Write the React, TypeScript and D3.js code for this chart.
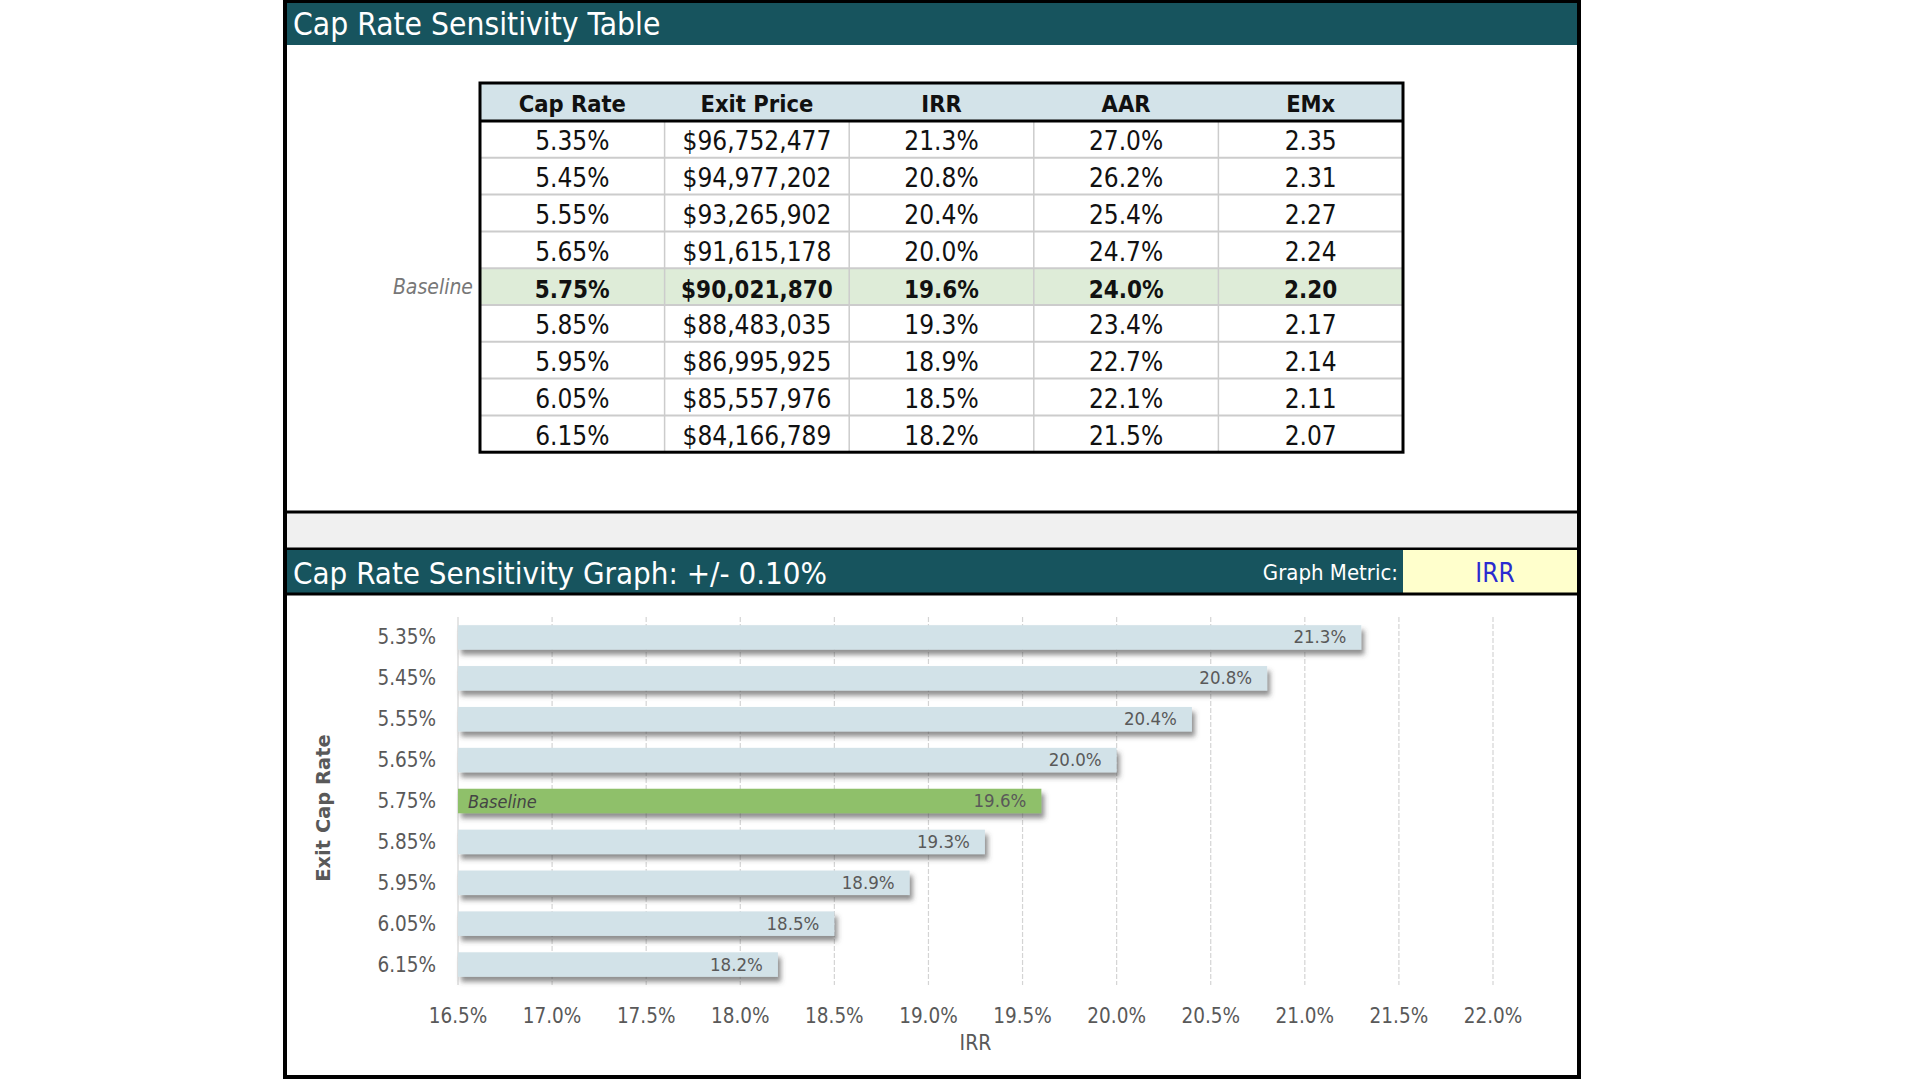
import { useEffect, useRef } from "react";
import * as d3 from "d3";

const capRates = ["5.35%", "5.45%", "5.55%", "5.65%", "5.75%", "5.85%", "5.95%", "6.05%", "6.15%"];
const exitPrices = [96752477, 94977202, 93265902, 91615178, 90021870, 88483035, 86995925, 85557976, 84166789];
const irrValues = [21.3, 20.8, 20.4, 20.0, 19.6, 19.3, 18.9, 18.5, 18.2];
const aarValues = [27.0, 26.2, 25.4, 24.7, 24.0, 23.4, 22.7, 22.1, 21.5];
const emxValues = [2.35, 2.31, 2.27, 2.24, 2.2, 2.17, 2.14, 2.11, 2.07];
const columns = ["Cap Rate", "Exit Price", "IRR", "AAR", "EMx"];
const xTicks = [16.5, 17.0, 17.5, 18.0, 18.5, 19.0, 19.5, 20.0, 20.5, 21.0, 21.5, 22.0];
const baselineIndex = 4;

const TEAL = "#17545e";
const NARROW = "'Liberation Sans Narrow', 'Arial Narrow', 'DejaVu Sans Condensed', sans-serif";

export default function App() {
  const svgRef = useRef<SVGSVGElement>(null);

  useEffect(() => {
    if (!svgRef.current) return;
    const svg = d3.select(svgRef.current);
    svg.selectAll("*").remove();

    const box = { left: 285, right: 1579, top: 0, bottom: 1077 };

    const defs = svg.append("defs");
    defs
      .append("filter")
      .attr("id", "shadow")
      .attr("x", "-5%")
      .attr("y", "-30%")
      .attr("width", "115%")
      .attr("height", "200%")
      .append("feDropShadow")
      .attr("dx", 3)
      .attr("dy", 5)
      .attr("stdDeviation", 2.5)
      .attr("flood-color", "#444")
      .attr("flood-opacity", 0.6);

    svg.append("rect").attr("width", 1920).attr("height", 1080).attr("fill", "#fff");

    // top title band
    svg.append("rect").attr("x", box.left).attr("y", 0).attr("width", box.right - box.left).attr("height", 45).attr("fill", TEAL);
    svg.append("text").attr("x", 293).attr("y", 35).attr("fill", "#fff").attr("font-family", NARROW).attr("font-size", 31.5)
      .text("Cap Rate Sensitivity Table");

    // ---- table ----
    const tL = 480, tR = 1403;
    const tX = d3.scaleBand<string>().domain(columns).range([tL, tR]);
    const headerTop = 83, headerH = 38, rowH = 36.8;
    const rowY = d3.scaleBand<string>().domain(capRates).range([headerTop + headerH, headerTop + headerH + rowH * capRates.length]);

    const tbl = svg.append("g").attr("font-family", NARROW);
    tbl.append("rect").attr("x", tL).attr("y", headerTop).attr("width", tR - tL).attr("height", headerH).attr("fill", "#d3e3e9");
    tbl.append("rect").attr("x", tL).attr("y", rowY(capRates[baselineIndex])!).attr("width", tR - tL).attr("height", rowH).attr("fill", "#deecd8");

    // row separators
    tbl.selectAll(".rowline").data(capRates.slice(1)).enter().append("line")
      .attr("x1", tL).attr("x2", tR)
      .attr("y1", (d) => rowY(d)!).attr("y2", (d) => rowY(d)!)
      .attr("stroke", "#cccccc").attr("stroke-width", 2);
    // column separators
    tbl.selectAll(".colline").data(columns.slice(1)).enter().append("line")
      .attr("x1", (d) => tX(d)!).attr("x2", (d) => tX(d)!)
      .attr("y1", headerTop + headerH).attr("y2", rowY.range()[1])
      .attr("stroke", "#cccccc").attr("stroke-width", 1.5);

    tbl.selectAll(".hdr").data(columns).enter().append("text")
      .attr("x", (d) => tX(d)! + tX.bandwidth() / 2).attr("y", headerTop + 29)
      .attr("text-anchor", "middle").attr("font-weight", "bold").attr("font-size", 23.5).attr("fill", "#111")
      .text((d) => d);

    const fmtPrice = d3.format("$,.0f");
    const cells = capRates.map((c, i) => [c, fmtPrice(exitPrices[i]), irrValues[i].toFixed(1) + "%", aarValues[i].toFixed(1) + "%", emxValues[i].toFixed(2)]);
    cells.forEach((row, i) => {
      tbl.selectAll(".c" + i).data(row).enter().append("text")
        .attr("x", (_, j) => tX(columns[j])! + tX.bandwidth() / 2)
        .attr("y", rowY(capRates[i])! + rowH / 2 + 11)
        .attr("text-anchor", "middle").attr("font-size", i === baselineIndex ? 24 : 26).attr("fill", "#111")
        .attr("font-weight", i === baselineIndex ? "bold" : "normal")
        .text((d) => d);
    });

    tbl.append("line").attr("x1", tL).attr("x2", tR).attr("y1", headerTop + headerH).attr("y2", headerTop + headerH).attr("stroke", "#000").attr("stroke-width", 3);
    tbl.append("rect").attr("x", tL).attr("y", headerTop).attr("width", tR - tL).attr("height", rowY.range()[1] - headerTop)
      .attr("fill", "none").attr("stroke", "#000").attr("stroke-width", 3);

    tbl.append("text").attr("x", 473).attr("y", rowY(capRates[baselineIndex])! + rowH / 2 + 7)
      .attr("text-anchor", "end").attr("font-style", "italic").attr("font-size", 21).attr("fill", "#777").text("Baseline");

    // ---- divider & second header ----
    svg.append("rect").attr("x", box.left).attr("y", 513).attr("width", box.right - box.left).attr("height", 36).attr("fill", "#f0f0f0");
    svg.append("line").attr("x1", box.left).attr("x2", box.right).attr("y1", 512).attr("y2", 512).attr("stroke", "#000").attr("stroke-width", 3);
    svg.append("line").attr("x1", box.left).attr("x2", box.right).attr("y1", 549).attr("y2", 549).attr("stroke", "#000").attr("stroke-width", 3);
    svg.append("rect").attr("x", box.left).attr("y", 550).attr("width", box.right - box.left).attr("height", 44).attr("fill", TEAL);
    svg.append("rect").attr("x", 1403).attr("y", 550).attr("width", box.right - 1403).attr("height", 44).attr("fill", "#ffffcc");
    svg.append("line").attr("x1", box.left).attr("x2", box.right).attr("y1", 594).attr("y2", 594).attr("stroke", "#000").attr("stroke-width", 3);
    svg.append("text").attr("x", 293).attr("y", 584).attr("fill", "#fff").attr("font-family", NARROW).attr("font-size", 31)
      .text("Cap Rate Sensitivity Graph: +/- 0.10%");
    svg.append("text").attr("x", 1398).attr("y", 580).attr("text-anchor", "end").attr("fill", "#fff").attr("font-family", NARROW).attr("font-size", 22)
      .text("Graph Metric:");
    svg.append("text").attr("x", 1495).attr("y", 582).attr("text-anchor", "middle").attr("fill", "#2b2bd0").attr("font-family", NARROW).attr("font-size", 26)
      .text("IRR");

    // ---- bar chart ----
    const x = d3.scaleLinear().domain([16.5, 22.0]).range([458, 1493]);
    const y = d3.scaleBand<string>().domain(capRates).range([617, 985]).paddingInner(0.4).paddingOuter(0.2);
    const chart = svg.append("g").attr("font-family", NARROW);

    chart.selectAll(".grid").data(xTicks).enter().append("line")
      .attr("x1", (d) => x(d)).attr("x2", (d) => x(d))
      .attr("y1", 617).attr("y2", 985)
      .attr("stroke", "#d4d4d4").attr("stroke-width", 1.2).attr("stroke-dasharray", (d, i) => (i === 0 ? null : "5,2"));

    chart.selectAll(".bar").data(capRates).enter().append("rect")
      .attr("x", x(16.5)).attr("y", (d) => y(d)!)
      .attr("width", (_, i) => x(irrValues[i]) - x(16.5))
      .attr("height", y.bandwidth())
      .attr("fill", (_, i) => (i === baselineIndex ? "#8fc06b" : "#d2e2e8"))
      .attr("filter", "url(#shadow)");

    chart.selectAll(".lbl").data(capRates).enter().append("text")
      .attr("x", (_, i) => x(irrValues[i]) - 15)
      .attr("y", (d) => y(d)! + y.bandwidth() / 2 + 6)
      .attr("text-anchor", "end").attr("font-size", 18.5).attr("fill", "#595959")
      .text((_, i) => irrValues[i].toFixed(1) + "%");

    chart.append("text").attr("x", x(16.5) + 10).attr("y", y(capRates[baselineIndex])! + y.bandwidth() / 2 + 7)
      .attr("font-style", "italic").attr("font-size", 18).attr("fill", "#444").text("Baseline");

    chart.selectAll(".ytick").data(capRates).enter().append("text")
      .attr("x", 436).attr("y", (d) => y(d)! + y.bandwidth() / 2 + 7)
      .attr("text-anchor", "end").attr("font-size", 20.5).attr("fill", "#595959").text((d) => d);

    chart.selectAll(".xtick").data(xTicks).enter().append("text")
      .attr("x", (d) => x(d)).attr("y", 1023)
      .attr("text-anchor", "middle").attr("font-size", 20.5).attr("fill", "#595959").text((d) => d.toFixed(1) + "%");

    chart.append("text").attr("x", (x(16.5) + x(22)) / 2).attr("y", 1050)
      .attr("text-anchor", "middle").attr("font-size", 21).attr("fill", "#595959").text("IRR");

    svg.append("text").attr("transform", "translate(330,808) rotate(-90)")
      .attr("text-anchor", "middle").attr("font-family", "'DejaVu Sans', Verdana, sans-serif").attr("font-weight", "bold")
      .attr("font-size", 19.5).attr("fill", "#595959").text("Exit Cap Rate");

    // outer border
    svg.append("rect").attr("x", box.left).attr("y", box.top + 1).attr("width", box.right - box.left).attr("height", box.bottom - box.top - 1)
      .attr("fill", "none").attr("stroke", "#000").attr("stroke-width", 4);
  }, []);

  return <svg ref={svgRef} width={1920} height={1080} style={{ position: "absolute", left: 0, top: 0, display: "block" }} />;
}
